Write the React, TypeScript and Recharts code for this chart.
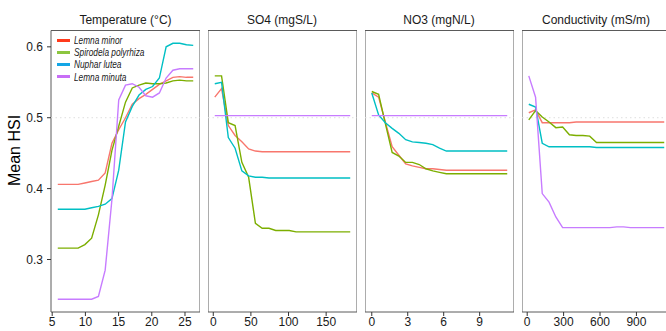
import { Line, LineChart, ReferenceArea, ReferenceLine, XAxis, YAxis } from 'recharts'

const SPECIES = ['Lemna minor', 'Spirodela polyrhiza', 'Nuphar lutea', 'Lemna minuta']
const LINE_COLORS = ['#F8766D', '#7CAE00', '#00BFC4', '#C77CFF']
const LEGEND_COLORS = ['#FF3A1C', '#8CC63F', '#13A6E6', '#C86EF6']

const Y_TICKS = [0.3, 0.4, 0.5, 0.6]

// Temperature (°C)
const TEMP_X = [5.84, 6.86, 7.88, 8.9, 9.92, 10.94, 11.96, 12.98, 14.0, 15.02, 16.04, 17.06, 18.08, 19.1, 20.12, 21.14, 22.16, 23.18, 24.2, 25.22, 26.24]
const TEMP_MINOR = [0.406, 0.406, 0.406, 0.406, 0.408, 0.41, 0.412, 0.422, 0.464, 0.483, 0.5, 0.519, 0.527, 0.533, 0.54, 0.547, 0.552, 0.557, 0.558, 0.557, 0.557]
const TEMP_SPIRODELA = [0.316, 0.316, 0.316, 0.316, 0.321, 0.33, 0.363, 0.405, 0.454, 0.488, 0.522, 0.542, 0.546, 0.549, 0.548, 0.548, 0.549, 0.552, 0.553, 0.552, 0.552]
const TEMP_NUPHAR = [0.371, 0.371, 0.371, 0.371, 0.371, 0.373, 0.375, 0.378, 0.386, 0.426, 0.494, 0.516, 0.532, 0.54, 0.544, 0.556, 0.6, 0.605, 0.605, 0.603, 0.602]
const TEMP_MINUTA = [0.244, 0.244, 0.244, 0.244, 0.244, 0.244, 0.248, 0.285, 0.385, 0.525, 0.546, 0.548, 0.543, 0.531, 0.529, 0.535, 0.556, 0.567, 0.569, 0.569, 0.569]
const TEMP_TICKS = [5, 10, 15, 20, 25]

// SO4 (mgS/L)
const SO4_X = [2, 11, 20, 29, 38, 47, 56, 65, 74, 83, 92, 101, 110, 119, 128, 137, 146, 155, 164, 173, 182]
const SO4_MINOR = [0.529, 0.541, 0.489, 0.475, 0.466, 0.456, 0.453, 0.452, 0.452, 0.452, 0.452, 0.452, 0.452, 0.452, 0.452, 0.452, 0.452, 0.452, 0.452, 0.452, 0.452]
const SO4_SPIRODELA = [0.559, 0.559, 0.493, 0.489, 0.437, 0.416, 0.351, 0.344, 0.344, 0.341, 0.341, 0.341, 0.339, 0.339, 0.339, 0.339, 0.339, 0.339, 0.339, 0.339, 0.339]
const SO4_NUPHAR = [0.548, 0.55, 0.472, 0.457, 0.425, 0.418, 0.416, 0.416, 0.415, 0.415, 0.415, 0.415, 0.415, 0.415, 0.415, 0.415, 0.415, 0.415, 0.415, 0.415, 0.415]
const SO4_MINUTA = [0.503, 0.503, 0.503, 0.503, 0.503, 0.503, 0.503, 0.503, 0.503, 0.503, 0.503, 0.503, 0.503, 0.503, 0.503, 0.503, 0.503, 0.503, 0.503, 0.503, 0.503]
const SO4_TICKS = [0, 50, 100, 150]

// NO3 (mgN/L)
const NO3_X = [0, 0.57, 1.13, 1.7, 2.26, 2.83, 3.39, 3.96, 4.52, 5.09, 5.65, 6.22, 6.78, 7.35, 7.91, 8.48, 9.04, 9.61, 10.17, 10.74, 11.3]
const NO3_MINOR = [0.535, 0.529, 0.494, 0.459, 0.447, 0.435, 0.432, 0.43, 0.428, 0.428, 0.427, 0.426, 0.426, 0.426, 0.426, 0.426, 0.426, 0.426, 0.426, 0.426, 0.426]
const NO3_SPIRODELA = [0.537, 0.533, 0.492, 0.451, 0.446, 0.437, 0.437, 0.434, 0.428, 0.425, 0.423, 0.421, 0.421, 0.421, 0.421, 0.421, 0.421, 0.421, 0.421, 0.421, 0.421]
const NO3_NUPHAR = [0.535, 0.504, 0.493, 0.485, 0.478, 0.469, 0.466, 0.465, 0.464, 0.462, 0.457, 0.453, 0.453, 0.453, 0.453, 0.453, 0.453, 0.453, 0.453, 0.453, 0.453]
const NO3_MINUTA = [0.503, 0.503, 0.503, 0.503, 0.503, 0.503, 0.503, 0.503, 0.503, 0.503, 0.503, 0.503, 0.503, 0.503, 0.503, 0.503, 0.503, 0.503, 0.503, 0.503, 0.503]
const NO3_TICKS = [0, 3, 6, 9]

// Conductivity (mS/m)
const COND_X = [13, 69, 124, 180, 236, 292, 348, 403, 459, 515, 571, 627, 682, 738, 794, 850, 906, 961, 1017, 1073, 1129]
const COND_MINOR = [0.507, 0.511, 0.493, 0.493, 0.493, 0.493, 0.493, 0.494, 0.494, 0.494, 0.494, 0.494, 0.494, 0.494, 0.494, 0.494, 0.494, 0.494, 0.494, 0.494, 0.494]
const COND_SPIRODELA = [0.497, 0.51, 0.501, 0.494, 0.486, 0.487, 0.476, 0.475, 0.475, 0.474, 0.465, 0.465, 0.465, 0.465, 0.465, 0.465, 0.465, 0.465, 0.465, 0.465, 0.465]
const COND_NUPHAR = [0.519, 0.515, 0.464, 0.459, 0.459, 0.459, 0.459, 0.459, 0.459, 0.459, 0.458, 0.458, 0.458, 0.458, 0.458, 0.458, 0.458, 0.458, 0.458, 0.458, 0.458]
const COND_MINUTA = [0.559, 0.529, 0.393, 0.381, 0.36, 0.345, 0.345, 0.345, 0.345, 0.345, 0.345, 0.345, 0.345, 0.346, 0.346, 0.345, 0.345, 0.345, 0.345, 0.345, 0.345]
const COND_TICKS = [0, 300, 600, 900]

type PanelDef = {
  title: string
  x: number[]
  series: number[][]
  ticks: number[]
}

const PANELS: PanelDef[] = [
  { title: 'Temperature (°C)', x: TEMP_X, series: [TEMP_MINOR, TEMP_SPIRODELA, TEMP_NUPHAR, TEMP_MINUTA], ticks: TEMP_TICKS },
  { title: 'SO4 (mgS/L)', x: SO4_X, series: [SO4_MINOR, SO4_SPIRODELA, SO4_NUPHAR, SO4_MINUTA], ticks: SO4_TICKS },
  { title: 'NO3 (mgN/L)', x: NO3_X, series: [NO3_MINOR, NO3_SPIRODELA, NO3_NUPHAR, NO3_MINUTA], ticks: NO3_TICKS },
  { title: 'Conductivity (mS/m)', x: COND_X, series: [COND_MINOR, COND_SPIRODELA, COND_NUPHAR, COND_MINUTA], ticks: COND_TICKS },
]

// ggplot-style 5% expansion around the data range
const expand = (lo: number, hi: number): [number, number] => {
  const pad = (hi - lo) * 0.05
  return [lo - pad, hi + pad]
}
const allY = PANELS.flatMap((p) => p.series.flat())
const Y_DOMAIN = expand(Math.min(...allY), Math.max(...allY))

const W = 666
const H = 331
const PLOT_TOP = 30.5
const X_AXIS_H = 19
const Y_AXIS_W = 51
const PANEL_W = 149
const PANEL_LEFTS = [51, 207.5, 364.5, 521.5]
const FONT = '"Liberation Sans", Arial, sans-serif'
const TEXT = '#1a1a1a'

function Panel({ panel, left, showY }: { panel: PanelDef; left: number; showY: boolean }) {
  const rows = panel.x.map((x, i) => ({
    x,
    s0: panel.series[0][i],
    s1: panel.series[1][i],
    s2: panel.series[2][i],
    s3: panel.series[3][i],
  }))
  const xDomain = expand(panel.x[0], panel.x[panel.x.length - 1])
  const chartLeft = showY ? left - Y_AXIS_W : left
  const width = showY ? Y_AXIS_W + PANEL_W : PANEL_W

  return (
    <>
      <div style={{ position: 'absolute', left: chartLeft, top: 0 }}>
        <LineChart width={width} height={H} data={rows} margin={{ top: PLOT_TOP, right: 0, bottom: 0, left: 0 }}>
          <XAxis
            dataKey="x"
            type="number"
            domain={xDomain}
            allowDataOverflow
            ticks={panel.ticks}
            interval={0}
            height={X_AXIS_H}
            axisLine={false}
            tickLine={{ stroke: '#333' }}
            tickSize={4}
            tickMargin={1}
            tick={{ fontSize: 12, fill: TEXT, fontFamily: FONT }}
          />
          <YAxis
            type="number"
            domain={Y_DOMAIN}
            allowDataOverflow
            ticks={Y_TICKS}
            hide={!showY}
            width={Y_AXIS_W}
            axisLine={false}
            tickLine={{ stroke: '#333' }}
            tickSize={4}
            tickMargin={4}
            tick={{ fontSize: 12, fill: TEXT, fontFamily: FONT }}
          />
          <ReferenceLine y={0.5} stroke="#dedede" strokeDasharray="1.5 3" />
          {SPECIES.map((name, i) => (
            <Line
              key={name}
              name={name}
              type="linear"
              dataKey={`s${i}`}
              stroke={LINE_COLORS[i]}
              strokeWidth={1.4}
              dot={false}
              isAnimationActive={false}
            />
          ))}
          <ReferenceArea x1={xDomain[0]} x2={xDomain[1]} y1={Y_DOMAIN[0]} y2={Y_DOMAIN[1]} fill="none" stroke="#5a5a5a" strokeWidth={1} />
        </LineChart>
      </div>
      <div
        style={{
          position: 'absolute',
          left,
          top: 12.5,
          width: PANEL_W,
          textAlign: 'center',
          fontFamily: FONT,
          fontSize: 12,
          lineHeight: '14px',
          color: TEXT,
          whiteSpace: 'nowrap',
        }}
      >
        {panel.title}
      </div>
    </>
  )
}

export default function App() {
  return (
    <div style={{ position: 'fixed', left: 0, top: 0, width: W, height: H, overflow: 'hidden', background: '#fff' }}>
      {PANELS.map((p, i) => (
        <Panel key={p.title} panel={p} left={PANEL_LEFTS[i]} showY={i === 0} />
      ))}
      <div
        style={{
          position: 'absolute',
          left: 0,
          top: PLOT_TOP + (H - X_AXIS_H - PLOT_TOP) / 2,
          width: 30,
          textAlign: 'center',
          fontFamily: FONT,
          fontSize: 16,
          color: '#000',
          transform: 'translate(0, -50%) rotate(-90deg)',
          whiteSpace: 'nowrap',
          lineHeight: '18px',
        }}
      >
        Mean HSI
      </div>
      <div style={{ position: 'absolute', left: 57, top: 34 }}>
        {SPECIES.map((name, i) => (
          <div key={name} style={{ display: 'flex', alignItems: 'center', height: 12.2 }}>
            <div style={{ width: 13, height: 3, background: LEGEND_COLORS[i], marginRight: 4 }} />
            <span
              style={{
                display: 'inline-block',
                fontFamily: FONT,
                fontStyle: 'italic',
                fontSize: 11.5,
                lineHeight: '12px',
                color: TEXT,
                whiteSpace: 'nowrap',
                transform: 'scaleX(0.72)',
                transformOrigin: 'left center',
              }}
            >
              {name}
            </span>
          </div>
        ))}
      </div>
    </div>
  )
}
